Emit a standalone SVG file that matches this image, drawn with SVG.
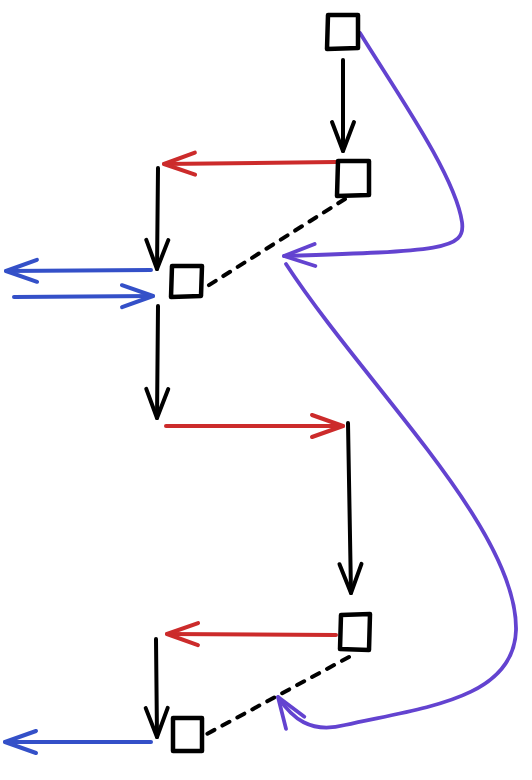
<svg xmlns="http://www.w3.org/2000/svg" width="532" height="780" viewBox="0 0 532 780">
<defs>
<style>
.box{fill:none;stroke:#000;stroke-width:4.5;stroke-linejoin:round}
.k{fill:none;stroke:#000;stroke-width:4;stroke-linecap:round}
.r{fill:none;stroke:#cc2b2b;stroke-width:4;stroke-linecap:round}
.b{fill:none;stroke:#3450c8;stroke-width:4;stroke-linecap:round}
.p{fill:none;stroke:#6343d0;stroke-width:3.8;stroke-linecap:round}
.d{fill:none;stroke:#000;stroke-width:4;stroke-linecap:round;stroke-dasharray:8 9}
</style>
<marker id="mk" markerUnits="userSpaceOnUse" orient="auto" refX="0" refY="0" markerWidth="80" markerHeight="80" viewBox="-40 -40 80 80" overflow="visible"><path d="M-29,-11 L0,0 L-29,11" fill="none" stroke="#000" stroke-width="4" stroke-linecap="round" stroke-linejoin="round"/></marker>
<marker id="mr" markerUnits="userSpaceOnUse" orient="auto" refX="0" refY="0" markerWidth="80" markerHeight="80" viewBox="-40 -40 80 80" overflow="visible"><path d="M-31,-11 L0,0 L-31,11" fill="none" stroke="#cc2b2b" stroke-width="4" stroke-linecap="round" stroke-linejoin="round"/></marker>
<marker id="mb" markerUnits="userSpaceOnUse" orient="auto" refX="0" refY="0" markerWidth="80" markerHeight="80" viewBox="-40 -40 80 80" overflow="visible"><path d="M-31,-11 L0,0 L-31,11" fill="none" stroke="#3450c8" stroke-width="4" stroke-linecap="round" stroke-linejoin="round"/></marker>
<marker id="mp" markerUnits="userSpaceOnUse" orient="auto" refX="0" refY="0" markerWidth="80" markerHeight="80" viewBox="-40 -40 80 80" overflow="visible"><path d="M-31,-11 L0,0 L-31,11" fill="none" stroke="#6343d0" stroke-width="3.8" stroke-linecap="round" stroke-linejoin="round"/></marker>
</defs>
<rect width="532" height="780" fill="#fff"/>
<g id="connectors">
<path class="k" d="M343,60 L343,151" marker-end="url(#mk)"/>
<path class="r" d="M336,162 L164,164" marker-end="url(#mr)"/>
<path class="k" d="M158,168 L157,269" marker-end="url(#mk)"/>
<path class="d" d="M345,199 L206,287"/>
<path class="b" d="M151,270 L6,271" marker-end="url(#mb)"/>
<path class="b" d="M14,297 L153,296" marker-end="url(#mb)"/>
<path class="k" d="M158,306 L157,418" marker-end="url(#mk)"/>
<path class="r" d="M166,426 L343,426" marker-end="url(#mr)"/>
<path class="k" d="M348,423 L351,593" marker-end="url(#mk)"/>
<path class="r" d="M336,635 L167,634" marker-end="url(#mr)"/>
<path class="k" d="M156,639 L157,737" marker-end="url(#mk)"/>
<path class="b" d="M151,742 L5,742" marker-end="url(#mb)"/>
<path class="d" d="M349,657 L205,735"/>
<path class="p" d="M360,33 C395,90 455,175 462,222 C466,250 440,251 284,256" marker-end="url(#mp)"/>
<path class="p" d="M286,264 C365,385 518,530 516,630 C514,700 420,708 345,725 C310,734 292,718 278,697" marker-end="url(#mp)"/>
</g>
<g id="node1"><path class="box" d="M328,15 L358,15 L358,48 L327,49 Z"/></g>
<g id="node2"><path class="box" d="M338,161 L369,161 L369,195 L337,196 Z"/></g>
<g id="node3"><path class="box" d="M172,266 L202,266 L201,296 L171,297 Z"/></g>
<g id="node4"><path class="box" d="M341,615 L370,614 L369,650 L340,649 Z"/></g>
<g id="node5"><path class="box" d="M173,718 L202,718 L202,751 L173,751 Z"/></g>
</svg>
